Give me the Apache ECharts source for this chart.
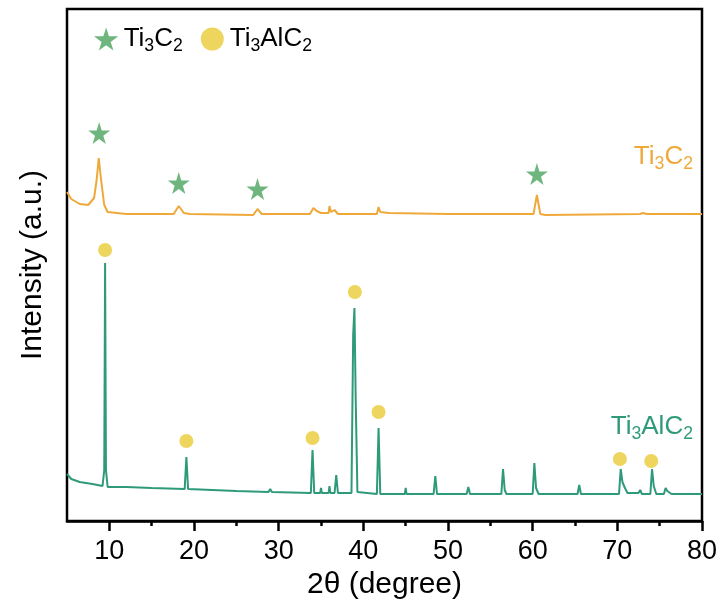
<!DOCTYPE html>
<html>
<head>
<meta charset="utf-8">
<script src="https://cdn.jsdelivr.net/npm/echarts@6/dist/echarts.min.js"></script>
<style>
    html, body { margin: 0; padding: 0; background: #fff; }
    #main { width: 721px; height: 610px; }
</style>
</head>
<body>
<div id="main"></div>
<script>
// Ti3AlC2 pattern [2θ, intensity]
const ti3alc2Line = [
    [5.0, 94], [5.5, 84], [6.5, 78], [8.0, 74], [9.2, 70], [9.4, 102], [9.5, 516], [9.6, 102], [9.8, 68],
    [12, 68], [15, 66], [18.9, 64], [19.1, 128], [19.3, 64], [25, 60], [28.8, 58], [29.0, 64], [29.2, 58],
    [33.8, 56], [34.0, 142], [34.2, 56], [34.9, 56], [35.0, 66], [35.1, 56], [35.9, 56], [36.0, 70], [36.1, 56],
    [36.6, 56], [36.8, 92], [37.0, 56], [38.6, 56], [38.8, 372], [38.95, 426], [39.1, 242], [39.3, 58],
    [41.6, 54], [41.8, 186], [42.0, 54], [44.9, 54], [45.0, 66], [45.1, 54], [48.3, 54], [48.5, 90], [48.7, 54],
    [52.2, 54], [52.4, 68], [52.6, 54], [56.3, 54], [56.5, 104], [56.7, 62], [56.9, 54], [60.0, 54], [60.2, 116],
    [60.4, 66], [60.7, 54], [65.3, 54], [65.5, 72], [65.7, 54], [70.2, 54], [70.4, 104], [70.6, 78], [70.9, 66],
    [71.2, 56], [72.5, 56], [72.7, 62], [72.9, 54], [73.9, 54], [74.1, 104], [74.3, 70], [74.6, 54], [75.5, 54],
    [75.7, 66], [75.9, 60], [76.1, 64], [76.4, 54], [80, 54]
]
// Ti3C2 pattern [2θ, intensity]
const ti3c2Line = [
    [5.0, 658], [5.5, 644], [6.5, 634], [7.5, 632], [8.2, 646], [8.5, 682], [8.75, 726], [9.0, 686], [9.4, 632],
    [9.8, 618], [12, 614], [17.6, 614], [18.2, 630], [18.8, 616], [19.5, 614], [27.0, 612], [27.5, 624], [28.0, 614],
    [33.7, 614], [34.1, 626], [34.5, 620], [35.0, 616], [35.9, 616], [36.0, 630], [36.2, 618], [36.6, 622], [37.0, 614],
    [41.6, 614], [41.8, 628], [42.0, 618], [43, 616], [50, 614], [60.1, 614], [60.5, 652], [60.9, 614], [61.5, 612],
    [72.7, 614], [73.0, 616], [73.5, 614], [80, 614]
]
// peak markers
const ti3c2Marks = [[8.8, 776], [18.2, 676], [27.5, 664], [60.5, 694]]
const ti3alc2Marks = [[9.5, 542], [19.1, 160], [34.0, 166], [39.0, 458], [41.8, 218], [70.3, 124], [74.0, 120]]

const majorTicks = [10, 20, 30, 40, 50, 60, 70, 80]
const minorTicks = [15, 25, 35, 45, 55, 65, 75]

const orange = '#EFA93A'
const green = '#2E9A7A'
const starPath = 'path://M50,0 L61,35 L98,35 L68,57 L79,91 L50,70 L21,91 L32,57 L2,35 L39,35 Z'
const font = 'Liberation Sans, Arial, sans-serif'
// subscript styles; legend text uses color, zrender graphic text uses fill
const rich = (size, color) => ({
    n: { fontSize: size, fontFamily: font, color: color, fill: color, lineHeight: size + 6, verticalAlign: 'middle' },
    s: { fontSize: size * 0.68, fontFamily: font, color: color, fill: color, lineHeight: size * 0.68, verticalAlign: 'bottom' }
})

let chart = echarts.init(document.getElementById('main'))
chart.setOption({
    animation: false,
    grid: {
        left: 67, right: 19, top: 9, bottom: 89,
        show: true, borderColor: '#000', borderWidth: 2.5
    },
    legend: {
        left: 89, top: 21,
        itemWidth: 25, itemHeight: 23, itemGap: 18,
        data: ['Ti3C2', 'Ti3AlC2'],
        formatter(name) {
            return name === 'Ti3C2' ? '{n|Ti}{s|3}{n|C}{s|2}' : '{n|Ti}{s|3}{n|AlC}{s|2}'
        },
        textStyle: { rich: rich(26, '#000') }
    },
    xAxis: [{
        type: 'value', min: 5, max: 80,
        name: '2θ (degree)', nameLocation: 'middle', nameGap: 46,
        nameTextStyle: { fontSize: 30, fontFamily: font, color: '#000' },
        axisLine: { lineStyle: { color: '#000', width: 2.5 } },
        axisTick: { length: 10, lineStyle: { color: '#000', width: 2.5 }, customValues: majorTicks },
        axisLabel: { fontSize: 27, fontFamily: font, color: '#000', margin: 17, customValues: majorTicks },
        splitLine: { show: false }
    }, {
        type: 'value', min: 5, max: 80, position: 'bottom',
        axisLine: { show: false },
        axisTick: { length: 5, lineStyle: { color: '#000', width: 2.5 }, customValues: minorTicks },
        axisLabel: { show: false },
        splitLine: { show: false }
    }],
    yAxis: {
        type: 'value', min: 0, max: 1024,
        name: 'Intensity (a.u.)', nameLocation: 'middle', nameGap: 19,
        nameTextStyle: { fontSize: 30, fontFamily: font, color: '#000' },
        axisLine: { show: false },
        axisTick: { show: false },
        axisLabel: { show: false },
        splitLine: { show: false }
    },
    graphic: [{
        type: 'text', right: 28, top: 144,
        style: { text: '{n|Ti}{s|3}{n|C}{s|2}', fill: orange, rich: rich(26, orange) }
    }, {
        type: 'text', right: 28, top: 414,
        style: { text: '{n|Ti}{s|3}{n|AlC}{s|2}', fill: green, rich: rich(26, green) }
    }],
    series: [{
        name: 'Ti3C2 pattern', type: 'line', symbol: 'none',
        lineStyle: { color: orange, width: 2 },
        data: ti3c2Line
    }, {
        name: 'Ti3AlC2 pattern', type: 'line', symbol: 'none',
        lineStyle: { color: green, width: 2 },
        data: ti3alc2Line
    }, {
        name: 'Ti3C2', type: 'scatter', symbol: starPath, symbolSize: 22,
        itemStyle: { color: '#4AA45E' },
        data: ti3c2Marks
    }, {
        name: 'Ti3AlC2', type: 'scatter', symbol: 'circle', symbolSize: 14,
        itemStyle: { color: '#E8CB36' },
        data: ti3alc2Marks
    }]
})
</script>
</body>
</html>
